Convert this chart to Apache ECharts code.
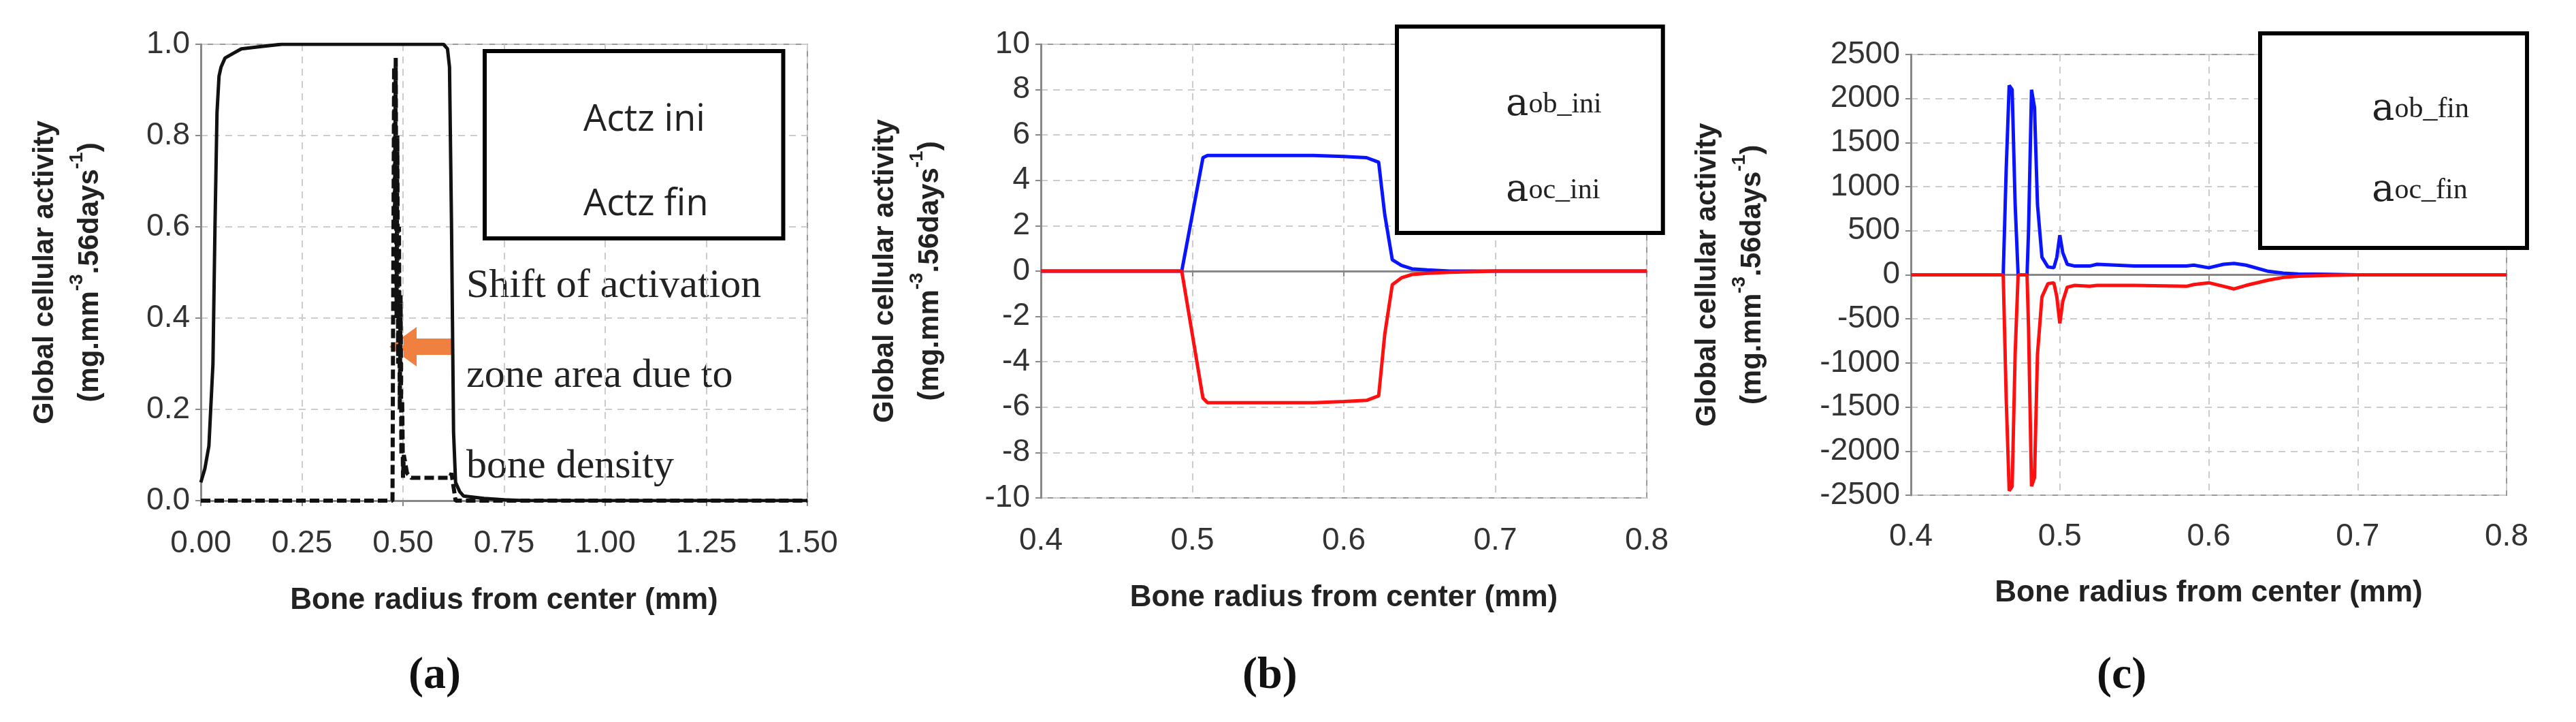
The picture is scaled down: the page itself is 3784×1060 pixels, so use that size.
<!DOCTYPE html>
<html><head><meta charset="utf-8">
<script src="https://cdn.jsdelivr.net/npm/echarts@6/dist/echarts.min.js"></script>
<style>html,body{margin:0;background:#fff}#c{width:3784px;height:1060px}</style></head>
<body><div id="c"></div>
<script>
// Panel (a)
const actzIniX = [0,0.01,0.02,0.03,0.035,0.04,0.045,0.05,0.06,0.08,0.1,0.15,0.2,0.3,0.4,0.5,0.6,0.61,0.615,0.62,0.625,0.63,0.64,0.65,0.7,0.75,0.8,1.0,1.5];
const actzIniY = [0.04,0.07,0.12,0.3,0.6,0.85,0.93,0.95,0.97,0.98,0.99,0.995,1,1,1,1,1,0.99,0.95,0.6,0.15,0.04,0.02,0.01,0.005,0.002,0,0,0];
const actzFinX = [0,0.474,0.476,0.478,0.48,0.482,0.484,0.486,0.488,0.49,0.492,0.494,0.496,0.498,0.5,0.502,0.51,0.52,0.55,0.6,0.61,0.615,0.62,0.625,0.63,1.5];
const actzFinY = [0,0,0.5,0.95,0.6,0.97,0.4,0.8,0.3,0.6,0.2,0.45,0.1,0.22,0.05,0.1,0.06,0.05,0.05,0.05,0.05,0.05,0.06,0.03,0,0];
// Panel (b)
const bX = [0.4,0.49,0.493,0.5,0.507,0.51,0.55,0.58,0.6,0.615,0.623,0.627,0.632,0.638,0.645,0.655,0.67,0.7,0.8];
const aobIni = [0,0,0,2.5,5.0,5.1,5.1,5.1,5.05,5.0,4.8,2.5,0.5,0.25,0.1,0.05,0,0,0];
const aocIni = [0,0,0,-2.8,-5.6,-5.8,-5.8,-5.8,-5.75,-5.7,-5.5,-2.8,-0.6,-0.3,-0.15,-0.1,-0.05,0,0];
// Panel (c)
const cX = [0.4,0.462,0.464,0.466,0.468,0.47,0.472,0.478,0.479,0.481,0.483,0.485,0.488,0.492,0.496,0.498,0.5,0.502,0.505,0.51,0.52,0.525,0.55,0.585,0.59,0.6,0.61,0.617,0.625,0.64,0.65,0.66,0.68,0.7,0.8];
const aobFin = [0,0,1200,2150,2100,800,0,0,500,2100,1900,800,200,90,80,200,450,250,120,100,100,120,100,100,110,80,120,130,110,40,20,10,5,0,0];
const aocFin = [0,0,-1400,-2450,-2400,-900,0,0,-600,-2400,-2300,-900,-250,-100,-90,-250,-550,-300,-140,-120,-130,-120,-120,-130,-110,-90,-130,-160,-120,-60,-30,-15,-5,0,0];

const pair = (xs, ys) => xs.map((x,i)=>[x,ys[i]]);
const yTitle = '{t|Global cellular activity}\n{t|(mg.mm}{s|-3}{t|.56days}{s|-1}{t|)}';
const yName = {name:yTitle, nameLocation:'middle', nameRotate:90,
  nameTextStyle:{rich:{t:{fontFamily:'Liberation Sans',fontWeight:'bold',fontSize:42,color:'#222',lineHeight:66},s:{fontFamily:'Liberation Sans',fontWeight:'bold',fontSize:28,color:'#222',verticalAlign:'top',lineHeight:66}}}};
const grid = (l,t,w,h)=>({left:l,top:t,width:w,height:h,show:true,borderColor:'#999',borderWidth:2});
const lab = (fmt, m)=>({fontFamily:'Liberation Sans',fontSize:46,color:'#333',margin:m,formatter:fmt});
const axisCommon = {axisLine:{show:true,lineStyle:{color:'#888',width:3}},axisTick:{show:true,length:8,lineStyle:{color:'#888',width:2}},
  splitLine:{show:true,lineStyle:{type:[10,8],color:'#ccc',width:2}}};
const xTitle = g=>({name:'Bone radius from center (mm)',nameLocation:'middle',nameGap:g,nameTextStyle:{fontFamily:'Liberation Sans',fontWeight:'bold',fontSize:44,color:'#222'}});
const legendRich = {a:{fontFamily:'DejaVu Serif',fontSize:56,color:'#222'},b:{fontFamily:'Liberation Serif',fontSize:42,color:'#222'}};
const legBase = {orient:'vertical',itemWidth:115,itemHeight:20,itemGap:70,borderColor:'#000',borderWidth:6,backgroundColor:'#fff',lineStyle:{width:12},icon:'none'};

const chart = echarts.init(document.getElementById('c'));
chart.setOption({
  animation:false,
  grid:[grid(295,65,891,670),grid(1529,65,890,666),grid(2807,80,875,647)],
  xAxis:[
    Object.assign({type:'value',gridIndex:0,min:0,max:1.5,interval:0.25,axisLabel:lab(v=>v.toFixed(2),40)},axisCommon,xTitle(125)),
    Object.assign({type:'value',gridIndex:1,min:0.4,max:0.8,interval:0.1,axisLabel:lab(v=>v.toFixed(1),40)},axisCommon,xTitle(125)),
    Object.assign({type:'value',gridIndex:2,min:0.4,max:0.8,interval:0.1,axisLabel:lab(v=>v.toFixed(1),38)},axisCommon,xTitle(122))
  ],
  yAxis:[
    Object.assign({type:'value',gridIndex:0,min:0,max:1,interval:0.2,axisLabel:lab(v=>v.toFixed(1),16)},axisCommon,yName,{nameGap:130}),
    Object.assign({type:'value',gridIndex:1,min:-10,max:10,interval:2,axisLabel:lab(v=>String(v),16)},axisCommon,yName,{nameGap:130}),
    Object.assign({type:'value',gridIndex:2,min:-2500,max:2500,interval:500,axisLabel:lab(v=>String(v),16)},axisCommon,yName,{nameGap:200})
  ],
  legend:[
    Object.assign({},legBase,{data:['Actz ini','Actz fin'],left:712,top:75,padding:[75,110,22,25],
     textStyle:{fontFamily:'Open Sans',fontSize:54,color:'#222',height:60}}),
    Object.assign({},legBase,{data:['aob_ini','aoc_ini'],left:2052,top:39,padding:[87,90,34,40],
     formatter:n=>'{a|a}{b|'+n.slice(1)+'}',textStyle:{rich:legendRich,height:60}}),
    Object.assign({},legBase,{data:['aob_fin','aoc_fin'],left:3320,top:49,padding:[84,85,56,44],itemGap:63,
     formatter:n=>'{a|a}{b|'+n.slice(1)+'}',textStyle:{rich:legendRich,height:60}})
  ],
  series:[
    {name:'Actz ini',type:'line',xAxisIndex:0,yAxisIndex:0,data:pair(actzIniX,actzIniY),symbol:'none',lineStyle:{color:'#111',width:5},itemStyle:{color:'#111'}},
    {name:'Actz fin',type:'line',xAxisIndex:0,yAxisIndex:0,data:pair(actzFinX,actzFinY),symbol:'none',lineStyle:{color:'#111',width:6,type:[14,6]},itemStyle:{color:'#111'}},
    {name:'aob_ini',type:'line',xAxisIndex:1,yAxisIndex:1,data:pair(bX,aobIni),symbol:'none',lineStyle:{color:'#0a14ff',width:5},itemStyle:{color:'#0a14ff'}},
    {name:'aoc_ini',type:'line',xAxisIndex:1,yAxisIndex:1,data:pair(bX,aocIni),symbol:'none',lineStyle:{color:'#ff1010',width:5},itemStyle:{color:'#ff1010'}},
    {name:'aob_fin',type:'line',xAxisIndex:2,yAxisIndex:2,data:pair(cX,aobFin),symbol:'none',lineStyle:{color:'#0a14ff',width:5},itemStyle:{color:'#0a14ff'}},
    {name:'aoc_fin',type:'line',xAxisIndex:2,yAxisIndex:2,data:pair(cX,aocFin),symbol:'none',lineStyle:{color:'#ff1010',width:5},itemStyle:{color:'#ff1010'},z:3}
  ],
  graphic:[
    {type:'text',left:685,top:390,style:{text:'Shift of activation',font:'60px "Liberation Serif"',fill:'#222'}},
    {type:'text',left:685,top:522,style:{text:'zone area due to',font:'60px "Liberation Serif"',fill:'#222'}},
    {type:'text',left:685,top:655,style:{text:'bone density',font:'60px "Liberation Serif"',fill:'#222'}},
    {type:'polygon',shape:{points:[[572,509],[612,480],[612,497],[665,497],[665,521],[612,521],[612,538]]},style:{fill:'#f08040'}},
    {type:'text',left:600,top:960,style:{text:'(a)',font:'bold 66px "Liberation Serif"',fill:'#111'}},
    {type:'text',left:1825,top:960,style:{text:'(b)',font:'bold 66px "Liberation Serif"',fill:'#111'}},
    {type:'text',left:3080,top:960,style:{text:'(c)',font:'bold 66px "Liberation Serif"',fill:'#111'}}
  ]
});
</script></body></html>
